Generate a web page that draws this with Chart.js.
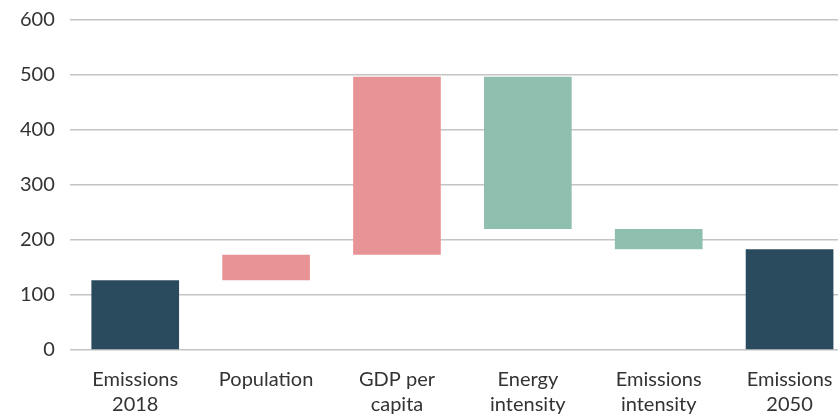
<!DOCTYPE html>
<html>
<head>
<meta charset="utf-8">
<script src="https://cdn.jsdelivr.net/npm/chart.js@4"></script>
<style>
  html, body { margin: 0; padding: 0; background: #fff; overflow: hidden; }
  #wrap { width: 855px; height: 414px; }
</style>
</head>
<body>
<div id="wrap"><canvas id="chart" width="855" height="414"></canvas></div>
<script>
/* data */
const categories = [['Emissions', '2018'], 'Population', ['GDP per', 'capita'], ['Energy', 'intensity'], ['Emissions', 'intensity'], ['Emissions', '2050']];
const steps = [127, 46, 324, -277, -37, 183];   // first and last are totals
const isTotal = [true, false, false, false, false, true];
const yTicks = [0, 100, 200, 300, 400, 500, 600];

const DARK = '#2a4a5d', UP = '#e89496', DOWN = '#8fbfae';

/* floating ranges for the waterfall */
let running = 0;
const ranges = steps.map((v, i) => {
  if (isTotal[i]) { running = v; return [0, v]; }
  const start = running;
  running += v;
  return [start, running];
});
const colors = steps.map((v, i) => isTotal[i] ? DARK : (v >= 0 ? UP : DOWN));

new Chart(document.getElementById('chart'), {
  type: 'bar',
  data: {
    labels: categories,
    datasets: [{ data: ranges, backgroundColor: colors, borderWidth: 0,
                 categoryPercentage: 1, barPercentage: 0.67 }]
  },
  options: {
    responsive: false,
    animation: false,
    layout: { padding: { top: 20, left: 5, right: 0, bottom: 0 } },
    plugins: { legend: { display: false }, tooltip: { enabled: false } },
    scales: {
      x: {
        grid: { display: false },
        border: { display: false },
        afterFit: s => { s.height = 64; },
        ticks: { color: '#333', font: { family: 'Lato', size: 20, lineHeight: 1.25 }, padding: 9, maxRotation: 0 }
      },
      y: {
        min: 0, max: 600,
        afterBuildTicks: ax => { ax.ticks = yTicks.map(v => ({ value: v })); },
        // tick padding would otherwise push the plot top down
        afterFit: s => { s.paddingTop = 0; s.paddingBottom = 0; },
        grid: { color: '#c4c4c4', lineWidth: 1.5, drawTicks: false },
        border: { display: false },
        ticks: { color: '#333', font: { family: 'Lato', size: 20 }, padding: 15 }
      }
    }
  }
});
</script>
</body>
</html>
